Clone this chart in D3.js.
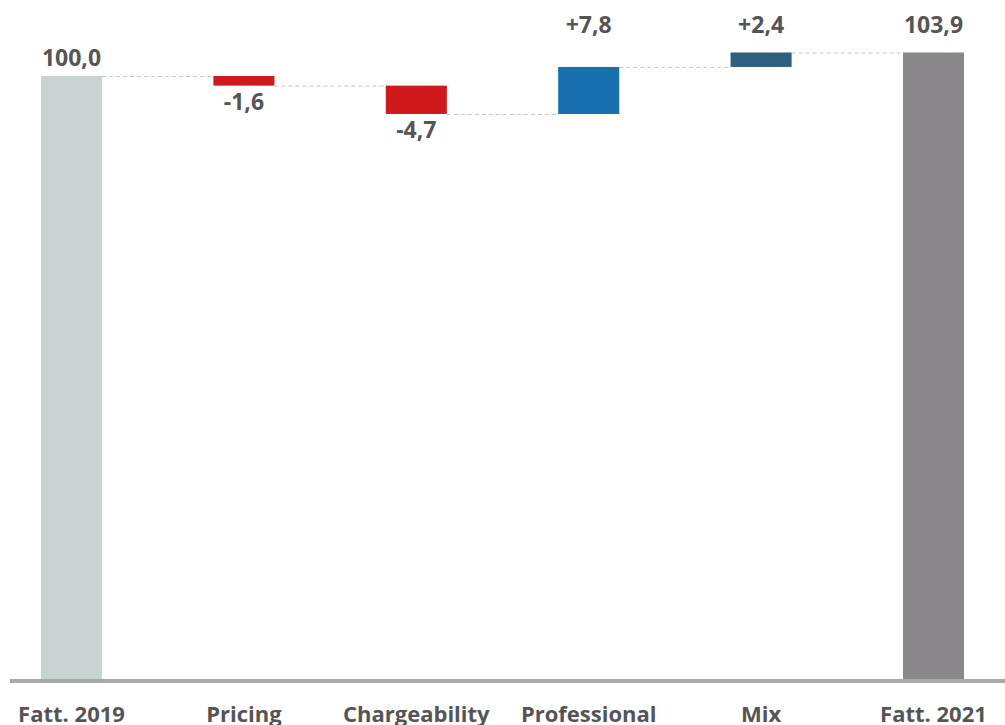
<!DOCTYPE html>
<html>
<head>
<meta charset="utf-8">
<script src="https://cdn.jsdelivr.net/npm/d3@7"></script>
<style>
  html, body { margin: 0; padding: 0; background: #fff; }
  svg { display: block; }
  text { font-family: "Open Sans", sans-serif; font-weight: 700; fill: #555; }
</style>
</head>
<body>
<svg id="chart" width="1005" height="725"></svg>
<script>
// Revenue bridge 2019 -> 2021 (index, 2019 = 100)
const categories = ["Fatt. 2019", "Pricing", "Chargeability", "Professional", "Mix", "Fatt. 2021"];
const kinds      = ["total", "delta", "delta", "delta", "delta", "total"];
const values     = [100.0, -1.6, -4.7, 7.8, 2.4, 103.9];
const valueLabels = ["100,0", "-1,6", "-4,7", "+7,8", "+2,4", "103,9"];
const colors     = ["#c9d3d1", "#d0191b", "#d0191b", "#176fae", "#2e5e80", "#898789"];

// running totals -> start/end of every step
let running = 0;
const steps = categories.map((c, i) => {
  let start, end;
  if (kinds[i] === "total") { start = 0; end = values[i]; running = values[i]; }
  else { start = running; end = running + values[i]; running = end; }
  return { cat: c, kind: kinds[i], value: values[i], label: valueLabels[i], color: colors[i], start, end };
});

const svg = d3.select("#chart");
const W = 1005;

const x = d3.scaleBand().domain(categories).range([41, 964]).paddingInner(0.646).paddingOuter(0);
const y = d3.scaleLinear().domain([0, 112]).range([679, 3.64]);

// dashed connectors between consecutive steps
const conn = svg.append("g");
steps.slice(0, -1).forEach((s, i) => {
  const lvl = s.kind === "total" ? s.end : s.end;
  conn.append("line")
    .attr("x1", x(s.cat) + x.bandwidth())
    .attr("x2", x(steps[i + 1].cat))
    .attr("y1", y(lvl) + 0.5).attr("y2", y(lvl) + 0.5)
    .attr("stroke", "#c8c8c8").attr("stroke-width", 1)
    .attr("stroke-dasharray", "4,3");
});

// bars
svg.append("g").selectAll("rect").data(steps).join("rect")
  .attr("x", d => x(d.cat))
  .attr("width", x.bandwidth())
  .attr("y", d => y(Math.max(d.start, d.end)))
  .attr("height", d => Math.abs(y(d.start) - y(d.end)))
  .attr("fill", d => d.color);

// baseline
svg.append("line")
  .attr("x1", 10).attr("x2", W)
  .attr("y1", y(0) + 2).attr("y2", y(0) + 2)
  .attr("stroke", "#a9a9a7").attr("stroke-width", 4);

// value labels
const topRow = y(d3.max(steps, d => Math.max(d.start, d.end))) - 19;
svg.append("g").selectAll("text").data(steps).join("text")
  .attr("x", d => x(d.cat) + x.bandwidth() / 2)
  .attr("y", (d, i) => {
    if (d.kind === "delta" && d.value < 0) return y(d.end) + 24;
    if (i === 0) return y(d.end) - 10;
    return topRow;
  })
  .attr("text-anchor", "middle")
  .attr("font-size", 23)
  .text(d => d.label);

// category labels
svg.append("g").selectAll("text").data(steps).join("text")
  .attr("x", d => x(d.cat) + x.bandwidth() / 2)
  .attr("y", 722)
  .attr("text-anchor", "middle")
  .attr("font-size", 22)
  .text(d => d.cat);
</script>
</body>
</html>
